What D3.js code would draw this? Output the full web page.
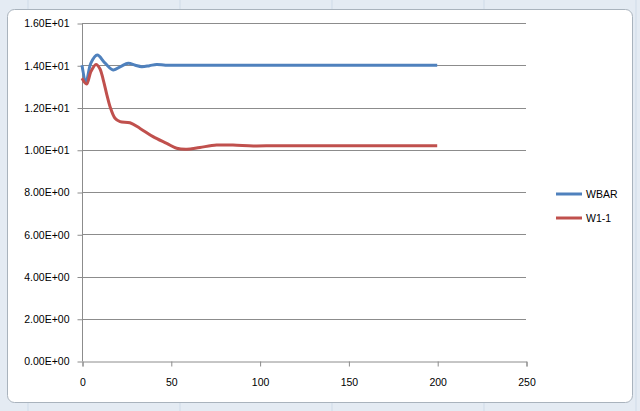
<!DOCTYPE html>
<html><head><meta charset="utf-8">
<script src="https://cdn.jsdelivr.net/npm/d3@7"></script>
<style>body{margin:0;background:#fff}svg{display:block}</style>
</head><body>
<svg id="c" width="640" height="411"></svg>
<script>
const xTicks = [0, 50, 100, 150, 200, 250];
const yTicks = [0, 2, 4, 6, 8, 10, 12, 14, 16];
const yTickLabels = ["0.00E+00","2.00E+00","4.00E+00","6.00E+00","8.00E+00","1.00E+01","1.20E+01","1.40E+01","1.60E+01"];
const seriesNames = ["WBAR", "W1-1"];
const wbarX = [0, 2.3, 5, 8.6, 13, 17.6, 22, 26, 30, 33.6, 38, 42, 47, 55, 70, 100, 150, 200];
const wbarY = [14.0, 13.22, 14.1, 14.48, 14.1, 13.78, 13.95, 14.09, 14.0, 13.93, 13.98, 14.04, 14.0, 14.0, 14.0, 14.0, 14.0, 14.0];
const w11X = [0, 2.6, 5, 7.9, 10, 12, 14, 15.8, 18.6, 21.4, 27, 32.7, 40, 47.7, 53.3, 59, 66.4, 75.8, 85, 96.5, 110, 150, 200];
const w11Y = [13.38, 13.11, 13.7, 14.04, 13.85, 13.3, 12.6, 12.04, 11.49, 11.33, 11.28, 11.01, 10.62, 10.3, 10.07, 10.02, 10.11, 10.22, 10.22, 10.18, 10.19, 10.19, 10.19];
const colors = ["#4F81BD", "#C0504D"];

const svg = d3.select("#c");
// Excel-like sheet background
svg.append("rect").attr("width",640).attr("height",411).attr("fill","#e4ebf3");
const sheetCols = [28, 180, 332, 484, 636];
svg.selectAll("line.sc").data(sheetCols).enter().append("line")
  .attr("x1",d=>d).attr("x2",d=>d).attr("y1",0).attr("y2",411)
  .attr("stroke","#cfdbe8").attr("stroke-width",1);
svg.append("rect").attr("x",7.5).attr("y",9.5).attr("width",625).attr("height",393)
  .attr("rx",7).attr("fill","#fff").attr("stroke","#a9b3bd").attr("stroke-width",1);

const x = d3.scaleLinear().domain([0,250]).range([82,526]);
const y = d3.scaleLinear().domain([0,16]).range([361,23]);

const font = "'Liberation Sans', Arial, sans-serif";
// gridlines
svg.append("g").selectAll("line").data(yTicks.filter(d=>d>0)).enter().append("line")
  .attr("x1",x(0)).attr("x2",x(250)).attr("y1",d=>Math.round(y(d))+0.5).attr("y2",d=>Math.round(y(d))+0.5)
  .attr("stroke","#8c8c8c").attr("stroke-width",1);

// y axis
const yAxis = svg.append("g").attr("transform",`translate(${x(0)+0.5},0.5)`)
  .call(d3.axisLeft(y).tickValues(yTicks).tickSize(5).tickFormat((d,i)=>yTickLabels[i]).tickPadding(8));
// x axis
const xAxis = svg.append("g").attr("transform",`translate(0.5,${Math.round(y(0))+0.5})`)
  .call(d3.axisBottom(x).tickValues(xTicks).tickSize(5).tickPadding(12));
[yAxis,xAxis].forEach(g=>{
  g.select(".domain").attr("stroke","#8c8c8c");
  g.selectAll(".tick line").attr("stroke","#8c8c8c");
  g.selectAll("text").attr("fill","#000").style("font-family",font).style("font-size","10.5px");
});
yAxis.select(".domain").attr("d",`M-0,${y(16)}V${y(0)}`);

const line = d3.line().x(d=>x(d[0])).y(d=>y(d[1])).curve(d3.curveCatmullRom.alpha(0.5));
const data = [d3.zip(wbarX,wbarY), d3.zip(w11X,w11Y)];
data.forEach((pts,i)=>{
  svg.append("path").datum(pts).attr("d",line).attr("fill","none")
    .attr("stroke",colors[i]).attr("stroke-width",3).attr("stroke-linejoin","round").attr("stroke-linecap","butt");
});

// legend
const leg = svg.append("g");
seriesNames.forEach((n,i)=>{
  const ly = 194 + i*24;
  leg.append("line").attr("x1",556).attr("x2",582).attr("y1",ly).attr("y2",ly)
    .attr("stroke",colors[i]).attr("stroke-width",3);
  leg.append("text").attr("x",586).attr("y",ly+4).text(n)
    .style("font-family",font).style("font-size","10.5px").attr("fill","#000");
});
</script>
</body></html>
